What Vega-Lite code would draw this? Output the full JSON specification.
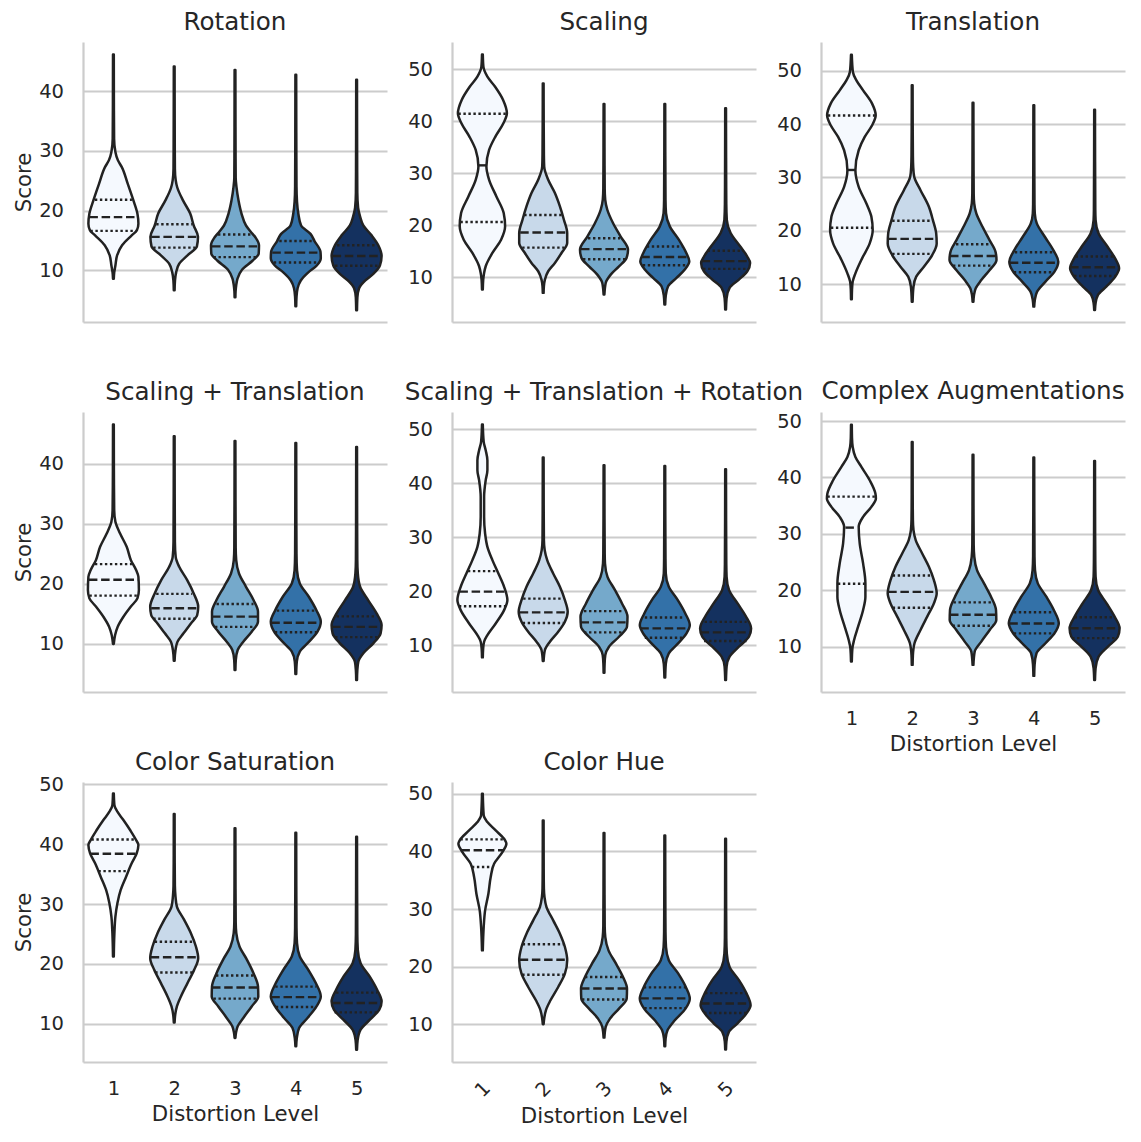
{
"$schema":"https://vega.github.io/schema/vega-lite/v6.json",
"padding":{"left":13,"top":10,"right":5,"bottom":5},
"config":{"font":"DejaVu Sans","view":{"stroke":null},
"axis":{"domainColor":"#cccccc","domainWidth":2.2,"ticks":false,"tickSize":0,"labelColor":"#262626","labelFontSize":19.5,"titleColor":"#262626","titleFontSize":21.3,"titleFontWeight":"normal","gridColor":"#cccccc","gridWidth":1.8},
"axisY":{"grid":true,"labelPadding":19.5,"titlePadding":4},
"axisX":{"grid":false,"labelPadding":17,"titlePadding":5.5},
"title":{"fontSize":24.6,"fontWeight":"normal","color":"#262626","offset":6,"frame":"group"}},
"datasets":{
"v":[
{"p":"R","l":1,"s":46.1,"w":0.4},{"p":"R","l":1,"s":38,"w":0.5},{"p":"R","l":1,"s":32,"w":0.7},{"p":"R","l":1,"s":29.8,"w":2},{"p":"R","l":1,"s":28.4,"w":4.5},{"p":"R","l":1,"s":27.3,"w":8.3},{"p":"R","l":1,"s":24.5,"w":14.3},{"p":"R","l":1,"s":21.7,"w":20},{"p":"R","l":1,"s":19.5,"w":24},{"p":"R","l":1,"s":17.8,"w":25},{"p":"R","l":1,"s":16.7,"w":23.5},{"p":"R","l":1,"s":15.85,"w":18.3},{"p":"R","l":1,"s":14.2,"w":8.7},{"p":"R","l":1,"s":12.5,"w":3.7},{"p":"R","l":1,"s":10.8,"w":2},{"p":"R","l":1,"s":9.6,"w":0.8},{"p":"R","l":1,"s":8.6,"w":0.4},
{"p":"R","l":2,"s":44.1,"w":0.4},{"p":"R","l":2,"s":35,"w":0.5},{"p":"R","l":2,"s":27,"w":0.7},{"p":"R","l":2,"s":25.1,"w":1.5},{"p":"R","l":2,"s":23.9,"w":3},{"p":"R","l":2,"s":21.7,"w":8.8},{"p":"R","l":2,"s":19.5,"w":16},{"p":"R","l":2,"s":17.5,"w":19.5},{"p":"R","l":2,"s":15.6,"w":23.8},{"p":"R","l":2,"s":14.0,"w":22.7},{"p":"R","l":2,"s":12.5,"w":13.3},{"p":"R","l":2,"s":11.1,"w":5},{"p":"R","l":2,"s":9.7,"w":2},{"p":"R","l":2,"s":8.3,"w":0.8},{"p":"R","l":2,"s":6.65,"w":0.4},
{"p":"R","l":3,"s":43.5,"w":0.4},{"p":"R","l":3,"s":34,"w":0.5},{"p":"R","l":3,"s":25.5,"w":0.7},{"p":"R","l":3,"s":23.9,"w":1.5},{"p":"R","l":3,"s":21.7,"w":3.5},{"p":"R","l":3,"s":19.5,"w":6.5},{"p":"R","l":3,"s":17.5,"w":11},{"p":"R","l":3,"s":16.5,"w":15.5},{"p":"R","l":3,"s":15.5,"w":20.5},{"p":"R","l":3,"s":14.2,"w":24},{"p":"R","l":3,"s":12.8,"w":23.7},{"p":"R","l":3,"s":11.6,"w":17.5},{"p":"R","l":3,"s":10.1,"w":7},{"p":"R","l":3,"s":8.6,"w":2.5},{"p":"R","l":3,"s":7.5,"w":1.2},{"p":"R","l":3,"s":6.5,"w":0.6},{"p":"R","l":3,"s":5.5,"w":0.4},
{"p":"R","l":4,"s":42.7,"w":0.4},{"p":"R","l":4,"s":33,"w":0.5},{"p":"R","l":4,"s":24,"w":0.7},{"p":"R","l":4,"s":21.5,"w":1.2},{"p":"R","l":4,"s":19.5,"w":2.5},{"p":"R","l":4,"s":17.5,"w":5.3},{"p":"R","l":4,"s":16.1,"w":14.7},{"p":"R","l":4,"s":14.9,"w":18.7},{"p":"R","l":4,"s":13.1,"w":24.7},{"p":"R","l":4,"s":12.0,"w":25},{"p":"R","l":4,"s":10.8,"w":21},{"p":"R","l":4,"s":9.7,"w":12.8},{"p":"R","l":4,"s":8.3,"w":5},{"p":"R","l":4,"s":7.0,"w":1.8},{"p":"R","l":4,"s":5.5,"w":0.7},{"p":"R","l":4,"s":4.0,"w":0.4},
{"p":"R","l":5,"s":41.9,"w":0.4},{"p":"R","l":5,"s":32,"w":0.5},{"p":"R","l":5,"s":23,"w":0.7},{"p":"R","l":5,"s":20.5,"w":1.5},{"p":"R","l":5,"s":19,"w":3.5},{"p":"R","l":5,"s":17.5,"w":6.7},{"p":"R","l":5,"s":15.85,"w":15},{"p":"R","l":5,"s":14.2,"w":21.7},{"p":"R","l":5,"s":12.4,"w":25},{"p":"R","l":5,"s":10.8,"w":23.3},{"p":"R","l":5,"s":9.4,"w":16.7},{"p":"R","l":5,"s":8.2,"w":8},{"p":"R","l":5,"s":7.0,"w":2.5},{"p":"R","l":5,"s":5.5,"w":0.8},{"p":"R","l":5,"s":3.3,"w":0.4},
{"p":"S","l":1,"s":52.8,"w":0.4},{"p":"S","l":1,"s":50.45,"w":1},{"p":"S","l":1,"s":48.53,"w":5},{"p":"S","l":1,"s":46.6,"w":12.7},{"p":"S","l":1,"s":44.06,"w":20.7},{"p":"S","l":1,"s":41.5,"w":24.5},{"p":"S","l":1,"s":39.58,"w":21},{"p":"S","l":1,"s":37.03,"w":13},{"p":"S","l":1,"s":34.47,"w":6.7},{"p":"S","l":1,"s":31.28,"w":4},{"p":"S","l":1,"s":28.72,"w":6.7},{"p":"S","l":1,"s":25.53,"w":14},{"p":"S","l":1,"s":22.33,"w":21.3},{"p":"S","l":1,"s":19.78,"w":22.7},{"p":"S","l":1,"s":17.22,"w":18.7},{"p":"S","l":1,"s":14.66,"w":10},{"p":"S","l":1,"s":12.11,"w":3.3},{"p":"S","l":1,"s":10.83,"w":1.7},{"p":"S","l":1,"s":9.5,"w":0.8},{"p":"S","l":1,"s":7.64,"w":0.4},
{"p":"S","l":2,"s":47.25,"w":0.4},{"p":"S","l":2,"s":40,"w":0.5},{"p":"S","l":2,"s":33.5,"w":0.7},{"p":"S","l":2,"s":31.28,"w":1},{"p":"S","l":2,"s":28.72,"w":5},{"p":"S","l":2,"s":26.17,"w":11.7},{"p":"S","l":2,"s":23.61,"w":16.7},{"p":"S","l":2,"s":21.05,"w":20.7},{"p":"S","l":2,"s":18.5,"w":24},{"p":"S","l":2,"s":16.58,"w":24},{"p":"S","l":2,"s":14.66,"w":18.3},{"p":"S","l":2,"s":12.75,"w":11.7},{"p":"S","l":2,"s":11.15,"w":5},{"p":"S","l":2,"s":9.55,"w":1.7},{"p":"S","l":2,"s":8.3,"w":0.7},{"p":"S","l":2,"s":7.0,"w":0.4},
{"p":"S","l":3,"s":43.3,"w":0.4},{"p":"S","l":3,"s":35,"w":0.5},{"p":"S","l":3,"s":27,"w":0.7},{"p":"S","l":3,"s":24.9,"w":1.2},{"p":"S","l":3,"s":22.97,"w":3.3},{"p":"S","l":3,"s":20.42,"w":9},{"p":"S","l":3,"s":17.86,"w":16.5},{"p":"S","l":3,"s":15.3,"w":24},{"p":"S","l":3,"s":13.7,"w":22.5},{"p":"S","l":3,"s":12.1,"w":15},{"p":"S","l":3,"s":10.5,"w":6.7},{"p":"S","l":3,"s":8.9,"w":1.7},{"p":"S","l":3,"s":6.68,"w":0.4},
{"p":"S","l":4,"s":43.3,"w":0.4},{"p":"S","l":4,"s":34,"w":0.5},{"p":"S","l":4,"s":25,"w":0.7},{"p":"S","l":4,"s":22.33,"w":1.2},{"p":"S","l":4,"s":19.78,"w":5},{"p":"S","l":4,"s":17.22,"w":14},{"p":"S","l":4,"s":14.66,"w":21.5},{"p":"S","l":4,"s":13.07,"w":24.5},{"p":"S","l":4,"s":11.47,"w":20},{"p":"S","l":4,"s":9.87,"w":11.7},{"p":"S","l":4,"s":8.27,"w":3.3},{"p":"S","l":4,"s":6.5,"w":1},{"p":"S","l":4,"s":4.76,"w":0.4},
{"p":"S","l":5,"s":42.46,"w":0.4},{"p":"S","l":5,"s":33,"w":0.5},{"p":"S","l":5,"s":24,"w":0.7},{"p":"S","l":5,"s":21.05,"w":1.2},{"p":"S","l":5,"s":18.5,"w":5},{"p":"S","l":5,"s":15.94,"w":14.5},{"p":"S","l":5,"s":14.03,"w":21.5},{"p":"S","l":5,"s":12.75,"w":24.5},{"p":"S","l":5,"s":11.15,"w":21.7},{"p":"S","l":5,"s":9.55,"w":13.3},{"p":"S","l":5,"s":7.96,"w":4},{"p":"S","l":5,"s":6.0,"w":1},{"p":"S","l":5,"s":3.8,"w":0.4},
{"p":"T","l":1,"s":52.96,"w":0.4},{"p":"T","l":1,"s":49.73,"w":1.5},{"p":"T","l":1,"s":48.17,"w":5},{"p":"T","l":1,"s":46.3,"w":11.7},{"p":"T","l":1,"s":43.81,"w":20.7},{"p":"T","l":1,"s":41.63,"w":24.3},{"p":"T","l":1,"s":39.76,"w":20.7},{"p":"T","l":1,"s":37.58,"w":13.3},{"p":"T","l":1,"s":35.09,"w":7.3},{"p":"T","l":1,"s":31.36,"w":4},{"p":"T","l":1,"s":28.24,"w":7.3},{"p":"T","l":1,"s":25.13,"w":15},{"p":"T","l":1,"s":22.64,"w":20},{"p":"T","l":1,"s":20.15,"w":21.3},{"p":"T","l":1,"s":17.66,"w":18.3},{"p":"T","l":1,"s":14.86,"w":10.7},{"p":"T","l":1,"s":12.05,"w":4},{"p":"T","l":1,"s":10.5,"w":1.3},{"p":"T","l":1,"s":9,"w":0.6},{"p":"T","l":1,"s":7.2,"w":0.4},
{"p":"T","l":2,"s":47.24,"w":0.4},{"p":"T","l":2,"s":40,"w":0.5},{"p":"T","l":2,"s":34,"w":0.7},{"p":"T","l":2,"s":31.98,"w":1},{"p":"T","l":2,"s":30.11,"w":2},{"p":"T","l":2,"s":27.62,"w":8.3},{"p":"T","l":2,"s":24.51,"w":16.7},{"p":"T","l":2,"s":22.02,"w":20.7},{"p":"T","l":2,"s":19.53,"w":24},{"p":"T","l":2,"s":17.66,"w":24.5},{"p":"T","l":2,"s":15.48,"w":20},{"p":"T","l":2,"s":13.3,"w":11.7},{"p":"T","l":2,"s":11.43,"w":4},{"p":"T","l":2,"s":9.56,"w":1.3},{"p":"T","l":2,"s":6.76,"w":0.4},
{"p":"T","l":3,"s":44.0,"w":0.4},{"p":"T","l":3,"s":35,"w":0.5},{"p":"T","l":3,"s":27,"w":0.7},{"p":"T","l":3,"s":25.13,"w":1.2},{"p":"T","l":3,"s":23.26,"w":3.3},{"p":"T","l":3,"s":20.77,"w":9.5},{"p":"T","l":3,"s":18.28,"w":16.5},{"p":"T","l":3,"s":16.1,"w":22.5},{"p":"T","l":3,"s":14.55,"w":23.5},{"p":"T","l":3,"s":12.68,"w":16.7},{"p":"T","l":3,"s":10.81,"w":8.3},{"p":"T","l":3,"s":9.25,"w":2.7},{"p":"T","l":3,"s":8,"w":1},{"p":"T","l":3,"s":6.76,"w":0.4},
{"p":"T","l":4,"s":43.5,"w":0.4},{"p":"T","l":4,"s":34,"w":0.5},{"p":"T","l":4,"s":25,"w":0.7},{"p":"T","l":4,"s":23.26,"w":1},{"p":"T","l":4,"s":21.4,"w":3},{"p":"T","l":4,"s":18.9,"w":11},{"p":"T","l":4,"s":16.41,"w":19.5},{"p":"T","l":4,"s":14.23,"w":24.5},{"p":"T","l":4,"s":12.37,"w":20.7},{"p":"T","l":4,"s":10.5,"w":11.7},{"p":"T","l":4,"s":8.63,"w":3.3},{"p":"T","l":4,"s":7,"w":1},{"p":"T","l":4,"s":5.83,"w":0.4},
{"p":"T","l":5,"s":42.69,"w":0.4},{"p":"T","l":5,"s":33,"w":0.5},{"p":"T","l":5,"s":24,"w":0.7},{"p":"T","l":5,"s":22.02,"w":1},{"p":"T","l":5,"s":19.53,"w":4},{"p":"T","l":5,"s":17.04,"w":13},{"p":"T","l":5,"s":14.86,"w":20.5},{"p":"T","l":5,"s":12.99,"w":24.5},{"p":"T","l":5,"s":11.43,"w":20.7},{"p":"T","l":5,"s":9.56,"w":11.7},{"p":"T","l":5,"s":8.0,"w":3.3},{"p":"T","l":5,"s":6.5,"w":1},{"p":"T","l":5,"s":5.2,"w":0.4},
{"p":"ST","l":1,"s":46.5,"w":0.4},{"p":"ST","l":1,"s":38.9,"w":0.5},{"p":"ST","l":1,"s":32.24,"w":0.8},{"p":"ST","l":1,"s":30.3,"w":2},{"p":"ST","l":1,"s":28.36,"w":6.7},{"p":"ST","l":1,"s":26.14,"w":13.3},{"p":"ST","l":1,"s":23.92,"w":17.5},{"p":"ST","l":1,"s":22.26,"w":22.7},{"p":"ST","l":1,"s":21.15,"w":25},{"p":"ST","l":1,"s":18.93,"w":25.5},{"p":"ST","l":1,"s":17.54,"w":24},{"p":"ST","l":1,"s":16.16,"w":17.3},{"p":"ST","l":1,"s":14.49,"w":10},{"p":"ST","l":1,"s":12.83,"w":4.3},{"p":"ST","l":1,"s":11.44,"w":1.7},{"p":"ST","l":1,"s":9.95,"w":0.4},
{"p":"ST","l":2,"s":44.55,"w":0.4},{"p":"ST","l":2,"s":35,"w":0.5},{"p":"ST","l":2,"s":27,"w":0.7},{"p":"ST","l":2,"s":24.48,"w":1.5},{"p":"ST","l":2,"s":22.81,"w":5},{"p":"ST","l":2,"s":20.59,"w":13},{"p":"ST","l":2,"s":18.37,"w":19.5},{"p":"ST","l":2,"s":16.16,"w":24},{"p":"ST","l":2,"s":14.77,"w":23},{"p":"ST","l":2,"s":13.38,"w":16.7},{"p":"ST","l":2,"s":11.72,"w":9.3},{"p":"ST","l":2,"s":10.33,"w":3.3},{"p":"ST","l":2,"s":8.95,"w":1.3},{"p":"ST","l":2,"s":7.17,"w":0.4},
{"p":"ST","l":3,"s":43.78,"w":0.4},{"p":"ST","l":3,"s":34,"w":0.5},{"p":"ST","l":3,"s":26,"w":0.7},{"p":"ST","l":3,"s":23.92,"w":1.2},{"p":"ST","l":3,"s":21.7,"w":4},{"p":"ST","l":3,"s":19.48,"w":11},{"p":"ST","l":3,"s":17.27,"w":18.5},{"p":"ST","l":3,"s":15.32,"w":23},{"p":"ST","l":3,"s":13.66,"w":23},{"p":"ST","l":3,"s":12.0,"w":16.7},{"p":"ST","l":3,"s":10.33,"w":8.3},{"p":"ST","l":3,"s":8.95,"w":2.7},{"p":"ST","l":3,"s":7.3,"w":0.8},{"p":"ST","l":3,"s":5.62,"w":0.4},
{"p":"ST","l":4,"s":43.44,"w":0.4},{"p":"ST","l":4,"s":34,"w":0.5},{"p":"ST","l":4,"s":25,"w":0.7},{"p":"ST","l":4,"s":22.26,"w":1.2},{"p":"ST","l":4,"s":20.04,"w":4},{"p":"ST","l":4,"s":17.82,"w":13},{"p":"ST","l":4,"s":15.6,"w":20.5},{"p":"ST","l":4,"s":13.66,"w":25},{"p":"ST","l":4,"s":12.0,"w":21.7},{"p":"ST","l":4,"s":10.33,"w":13.3},{"p":"ST","l":4,"s":8.67,"w":4},{"p":"ST","l":4,"s":7,"w":1},{"p":"ST","l":4,"s":4.95,"w":0.4},
{"p":"ST","l":5,"s":42.78,"w":0.4},{"p":"ST","l":5,"s":33,"w":0.5},{"p":"ST","l":5,"s":24,"w":0.7},{"p":"ST","l":5,"s":21.7,"w":1.2},{"p":"ST","l":5,"s":19.48,"w":3.5},{"p":"ST","l":5,"s":17.27,"w":11.5},{"p":"ST","l":5,"s":15.05,"w":20},{"p":"ST","l":5,"s":13.11,"w":25},{"p":"ST","l":5,"s":11.72,"w":24},{"p":"ST","l":5,"s":10.06,"w":16.7},{"p":"ST","l":5,"s":8.39,"w":6.7},{"p":"ST","l":5,"s":7.0,"w":1.7},{"p":"ST","l":5,"s":5.5,"w":0.7},{"p":"ST","l":5,"s":3.95,"w":0.4},
{"p":"STR","l":1,"s":50.86,"w":0.4},{"p":"STR","l":1,"s":47.65,"w":1.3},{"p":"STR","l":1,"s":46.11,"w":3.3},{"p":"STR","l":1,"s":44.26,"w":5},{"p":"STR","l":1,"s":42.41,"w":5},{"p":"STR","l":1,"s":40.56,"w":3.3},{"p":"STR","l":1,"s":37.47,"w":1.7},{"p":"STR","l":1,"s":33.77,"w":1.7},{"p":"STR","l":1,"s":30.68,"w":2.7},{"p":"STR","l":1,"s":28.21,"w":5},{"p":"STR","l":1,"s":25.74,"w":10},{"p":"STR","l":1,"s":23.27,"w":16},{"p":"STR","l":1,"s":20.8,"w":21.7},{"p":"STR","l":1,"s":18.33,"w":25},{"p":"STR","l":1,"s":16.48,"w":21.7},{"p":"STR","l":1,"s":14.01,"w":13.3},{"p":"STR","l":1,"s":11.85,"w":5},{"p":"STR","l":1,"s":10.62,"w":1.7},{"p":"STR","l":1,"s":9.2,"w":0.7},{"p":"STR","l":1,"s":7.72,"w":0.4},
{"p":"STR","l":2,"s":44.75,"w":0.4},{"p":"STR","l":2,"s":36,"w":0.5},{"p":"STR","l":2,"s":29.5,"w":0.7},{"p":"STR","l":2,"s":27.59,"w":1.5},{"p":"STR","l":2,"s":25.74,"w":4},{"p":"STR","l":2,"s":23.27,"w":10},{"p":"STR","l":2,"s":20.8,"w":16.7},{"p":"STR","l":2,"s":18.33,"w":21.7},{"p":"STR","l":2,"s":16.17,"w":24.5},{"p":"STR","l":2,"s":14.32,"w":21.7},{"p":"STR","l":2,"s":12.47,"w":15},{"p":"STR","l":2,"s":10.62,"w":6.7},{"p":"STR","l":2,"s":9.07,"w":1.7},{"p":"STR","l":2,"s":7.04,"w":0.4},
{"p":"STR","l":3,"s":43.33,"w":0.4},{"p":"STR","l":3,"s":34,"w":0.5},{"p":"STR","l":3,"s":27,"w":0.7},{"p":"STR","l":3,"s":25.12,"w":1},{"p":"STR","l":3,"s":22.65,"w":3.5},{"p":"STR","l":3,"s":20.19,"w":11},{"p":"STR","l":3,"s":17.72,"w":18},{"p":"STR","l":3,"s":15.25,"w":23.5},{"p":"STR","l":3,"s":13.4,"w":23},{"p":"STR","l":3,"s":11.54,"w":15},{"p":"STR","l":3,"s":9.69,"w":5},{"p":"STR","l":3,"s":8.15,"w":1.3},{"p":"STR","l":3,"s":6.5,"w":0.6},{"p":"STR","l":3,"s":4.88,"w":0.4},
{"p":"STR","l":4,"s":43.21,"w":0.4},{"p":"STR","l":4,"s":34,"w":0.5},{"p":"STR","l":4,"s":26,"w":0.7},{"p":"STR","l":4,"s":23.27,"w":1},{"p":"STR","l":4,"s":20.8,"w":4},{"p":"STR","l":4,"s":18.33,"w":13},{"p":"STR","l":4,"s":15.86,"w":20.5},{"p":"STR","l":4,"s":13.7,"w":25},{"p":"STR","l":4,"s":12.16,"w":21.7},{"p":"STR","l":4,"s":10.31,"w":13.3},{"p":"STR","l":4,"s":8.46,"w":4},{"p":"STR","l":4,"s":6.5,"w":1},{"p":"STR","l":4,"s":4.0,"w":0.4},
{"p":"STR","l":5,"s":42.59,"w":0.4},{"p":"STR","l":5,"s":33,"w":0.5},{"p":"STR","l":5,"s":25,"w":0.7},{"p":"STR","l":5,"s":22.65,"w":1},{"p":"STR","l":5,"s":20.19,"w":3.5},{"p":"STR","l":5,"s":17.72,"w":12},{"p":"STR","l":5,"s":15.25,"w":20.5},{"p":"STR","l":5,"s":13.09,"w":25.5},{"p":"STR","l":5,"s":11.54,"w":23.3},{"p":"STR","l":5,"s":9.69,"w":13.3},{"p":"STR","l":5,"s":7.84,"w":4},{"p":"STR","l":5,"s":6,"w":1},{"p":"STR","l":5,"s":3.52,"w":0.4},
{"p":"C","l":1,"s":49.35,"w":0.4},{"p":"C","l":1,"s":47,"w":0.6},{"p":"C","l":1,"s":45.4,"w":1.3},{"p":"C","l":1,"s":43.63,"w":4},{"p":"C","l":1,"s":41.86,"w":10},{"p":"C","l":1,"s":39.5,"w":18.3},{"p":"C","l":1,"s":37.14,"w":24},{"p":"C","l":1,"s":36.25,"w":24.5},{"p":"C","l":1,"s":34.78,"w":20},{"p":"C","l":1,"s":33.01,"w":11.7},{"p":"C","l":1,"s":31.24,"w":7.3},{"p":"C","l":1,"s":28.29,"w":8.3},{"p":"C","l":1,"s":24.75,"w":11.7},{"p":"C","l":1,"s":21.21,"w":14},{"p":"C","l":1,"s":18.85,"w":14},{"p":"C","l":1,"s":16.49,"w":11.7},{"p":"C","l":1,"s":13.54,"w":6.7},{"p":"C","l":1,"s":11.18,"w":2.7},{"p":"C","l":1,"s":9.7,"w":1},{"p":"C","l":1,"s":7.35,"w":0.4},
{"p":"C","l":2,"s":46.28,"w":0.4},{"p":"C","l":2,"s":37,"w":0.5},{"p":"C","l":2,"s":32.5,"w":0.7},{"p":"C","l":2,"s":30.65,"w":1.3},{"p":"C","l":2,"s":28.88,"w":3.5},{"p":"C","l":2,"s":26.52,"w":10},{"p":"C","l":2,"s":24.16,"w":16.7},{"p":"C","l":2,"s":21.8,"w":21.7},{"p":"C","l":2,"s":19.44,"w":24.5},{"p":"C","l":2,"s":17.67,"w":21.7},{"p":"C","l":2,"s":15.31,"w":15},{"p":"C","l":2,"s":12.95,"w":8.3},{"p":"C","l":2,"s":10.59,"w":2.3},{"p":"C","l":2,"s":8.5,"w":0.7},{"p":"C","l":2,"s":6.76,"w":0.4},
{"p":"C","l":3,"s":44.04,"w":0.4},{"p":"C","l":3,"s":35,"w":0.5},{"p":"C","l":3,"s":28,"w":0.7},{"p":"C","l":3,"s":25.93,"w":1.3},{"p":"C","l":3,"s":23.57,"w":4},{"p":"C","l":3,"s":21.21,"w":11},{"p":"C","l":3,"s":18.85,"w":18},{"p":"C","l":3,"s":16.49,"w":23},{"p":"C","l":3,"s":14.72,"w":23.3},{"p":"C","l":3,"s":12.95,"w":16.7},{"p":"C","l":3,"s":10.88,"w":8.3},{"p":"C","l":3,"s":9.12,"w":1.7},{"p":"C","l":3,"s":6.76,"w":0.4},
{"p":"C","l":4,"s":43.51,"w":0.4},{"p":"C","l":4,"s":34,"w":0.5},{"p":"C","l":4,"s":26,"w":0.7},{"p":"C","l":4,"s":23.57,"w":1.2},{"p":"C","l":4,"s":21.21,"w":4},{"p":"C","l":4,"s":18.85,"w":12.5},{"p":"C","l":4,"s":16.49,"w":20},{"p":"C","l":4,"s":14.13,"w":25},{"p":"C","l":4,"s":12.36,"w":20.7},{"p":"C","l":4,"s":10.59,"w":11.7},{"p":"C","l":4,"s":8.82,"w":2.7},{"p":"C","l":4,"s":6.8,"w":0.8},{"p":"C","l":4,"s":4.81,"w":0.4},
{"p":"C","l":5,"s":42.92,"w":0.4},{"p":"C","l":5,"s":33,"w":0.5},{"p":"C","l":5,"s":25,"w":0.7},{"p":"C","l":5,"s":22.39,"w":1},{"p":"C","l":5,"s":20.03,"w":3.5},{"p":"C","l":5,"s":17.67,"w":12},{"p":"C","l":5,"s":15.31,"w":20},{"p":"C","l":5,"s":13.24,"w":25},{"p":"C","l":5,"s":11.77,"w":23.3},{"p":"C","l":5,"s":10.0,"w":13.3},{"p":"C","l":5,"s":8.23,"w":4},{"p":"C","l":5,"s":6.2,"w":1},{"p":"C","l":5,"s":4.1,"w":0.4},
{"p":"CS","l":1,"s":48.49,"w":0.4},{"p":"CS","l":1,"s":46.54,"w":1},{"p":"CS","l":1,"s":45.43,"w":4},{"p":"CS","l":1,"s":44.04,"w":10},{"p":"CS","l":1,"s":42.37,"w":16.7},{"p":"CS","l":1,"s":40.7,"w":22.7},{"p":"CS","l":1,"s":39.87,"w":25},{"p":"CS","l":1,"s":38.48,"w":23.3},{"p":"CS","l":1,"s":36.81,"w":18.3},{"p":"CS","l":1,"s":34.58,"w":12.7},{"p":"CS","l":1,"s":32.36,"w":7.3},{"p":"CS","l":1,"s":30.13,"w":4},{"p":"CS","l":1,"s":27.91,"w":2},{"p":"CS","l":1,"s":25.13,"w":1},{"p":"CS","l":1,"s":21.23,"w":0.4},
{"p":"CS","l":2,"s":45.04,"w":0.4},{"p":"CS","l":2,"s":37,"w":0.5},{"p":"CS","l":2,"s":33,"w":0.7},{"p":"CS","l":2,"s":31.25,"w":1.3},{"p":"CS","l":2,"s":29.58,"w":2.7},{"p":"CS","l":2,"s":27.35,"w":10},{"p":"CS","l":2,"s":25.13,"w":16.7},{"p":"CS","l":2,"s":22.9,"w":21.7},{"p":"CS","l":2,"s":20.96,"w":24},{"p":"CS","l":2,"s":19.01,"w":20},{"p":"CS","l":2,"s":16.79,"w":13.3},{"p":"CS","l":2,"s":14.56,"w":6.7},{"p":"CS","l":2,"s":12.89,"w":2.7},{"p":"CS","l":2,"s":11.5,"w":1},{"p":"CS","l":2,"s":10.22,"w":0.4},
{"p":"CS","l":3,"s":42.65,"w":0.4},{"p":"CS","l":3,"s":34,"w":0.5},{"p":"CS","l":3,"s":27,"w":0.7},{"p":"CS","l":3,"s":25.13,"w":1.3},{"p":"CS","l":3,"s":22.9,"w":4.5},{"p":"CS","l":3,"s":20.68,"w":12},{"p":"CS","l":3,"s":18.45,"w":18.5},{"p":"CS","l":3,"s":16.23,"w":23},{"p":"CS","l":3,"s":14.56,"w":23.3},{"p":"CS","l":3,"s":12.89,"w":16.7},{"p":"CS","l":3,"s":10.95,"w":8.3},{"p":"CS","l":3,"s":9.56,"w":2.7},{"p":"CS","l":3,"s":8.5,"w":1},{"p":"CS","l":3,"s":7.61,"w":0.4},
{"p":"CS","l":4,"s":41.92,"w":0.4},{"p":"CS","l":4,"s":33,"w":0.5},{"p":"CS","l":4,"s":26,"w":0.7},{"p":"CS","l":4,"s":23.46,"w":1.2},{"p":"CS","l":4,"s":21.23,"w":4},{"p":"CS","l":4,"s":19.01,"w":12.5},{"p":"CS","l":4,"s":16.79,"w":20},{"p":"CS","l":4,"s":14.56,"w":25},{"p":"CS","l":4,"s":12.89,"w":20.7},{"p":"CS","l":4,"s":10.95,"w":11.7},{"p":"CS","l":4,"s":9.28,"w":3.3},{"p":"CS","l":4,"s":7.6,"w":1},{"p":"CS","l":4,"s":6.22,"w":0.4},
{"p":"CS","l":5,"s":41.26,"w":0.4},{"p":"CS","l":5,"s":33,"w":0.5},{"p":"CS","l":5,"s":25,"w":0.7},{"p":"CS","l":5,"s":22.35,"w":1.2},{"p":"CS","l":5,"s":20.12,"w":4},{"p":"CS","l":5,"s":17.9,"w":13},{"p":"CS","l":5,"s":15.67,"w":20.5},{"p":"CS","l":5,"s":13.73,"w":25},{"p":"CS","l":5,"s":12.34,"w":22.7},{"p":"CS","l":5,"s":10.67,"w":13.3},{"p":"CS","l":5,"s":9.0,"w":4},{"p":"CS","l":5,"s":7.2,"w":1},{"p":"CS","l":5,"s":5.66,"w":0.4},
{"p":"CH","l":1,"s":50.0,"w":0.4},{"p":"CH","l":1,"s":46.24,"w":1.3},{"p":"CH","l":1,"s":45.09,"w":5},{"p":"CH","l":1,"s":43.64,"w":13.3},{"p":"CH","l":1,"s":41.91,"w":22.7},{"p":"CH","l":1,"s":41.33,"w":24},{"p":"CH","l":1,"s":39.88,"w":20},{"p":"CH","l":1,"s":37.86,"w":11.7},{"p":"CH","l":1,"s":35.55,"w":8.3},{"p":"CH","l":1,"s":32.66,"w":6},{"p":"CH","l":1,"s":29.77,"w":2.7},{"p":"CH","l":1,"s":26.88,"w":1.3},{"p":"CH","l":1,"s":22.83,"w":0.4},
{"p":"CH","l":2,"s":45.38,"w":0.4},{"p":"CH","l":2,"s":37,"w":0.5},{"p":"CH","l":2,"s":33.5,"w":0.7},{"p":"CH","l":2,"s":32.08,"w":1.3},{"p":"CH","l":2,"s":30.35,"w":3.3},{"p":"CH","l":2,"s":28.03,"w":10},{"p":"CH","l":2,"s":25.72,"w":16.7},{"p":"CH","l":2,"s":23.41,"w":21.7},{"p":"CH","l":2,"s":21.1,"w":24},{"p":"CH","l":2,"s":18.79,"w":21.7},{"p":"CH","l":2,"s":16.47,"w":15},{"p":"CH","l":2,"s":14.16,"w":7.3},{"p":"CH","l":2,"s":12.43,"w":2.7},{"p":"CH","l":2,"s":11,"w":1},{"p":"CH","l":2,"s":10.0,"w":0.4},
{"p":"CH","l":3,"s":43.18,"w":0.4},{"p":"CH","l":3,"s":34,"w":0.5},{"p":"CH","l":3,"s":27,"w":0.7},{"p":"CH","l":3,"s":25.14,"w":1.3},{"p":"CH","l":3,"s":22.83,"w":4.5},{"p":"CH","l":3,"s":20.52,"w":12},{"p":"CH","l":3,"s":18.21,"w":19},{"p":"CH","l":3,"s":16.18,"w":23},{"p":"CH","l":3,"s":14.45,"w":22.7},{"p":"CH","l":3,"s":12.72,"w":15},{"p":"CH","l":3,"s":10.98,"w":6},{"p":"CH","l":3,"s":9.54,"w":1.7},{"p":"CH","l":3,"s":7.69,"w":0.4},
{"p":"CH","l":4,"s":42.77,"w":0.4},{"p":"CH","l":4,"s":34,"w":0.5},{"p":"CH","l":4,"s":26,"w":0.7},{"p":"CH","l":4,"s":23.41,"w":1.2},{"p":"CH","l":4,"s":21.1,"w":4},{"p":"CH","l":4,"s":18.79,"w":13.5},{"p":"CH","l":4,"s":16.47,"w":21},{"p":"CH","l":4,"s":14.45,"w":25},{"p":"CH","l":4,"s":12.72,"w":20.7},{"p":"CH","l":4,"s":10.69,"w":10},{"p":"CH","l":4,"s":8.96,"w":2.7},{"p":"CH","l":4,"s":7.5,"w":0.8},{"p":"CH","l":4,"s":6.18,"w":0.4},
{"p":"CH","l":5,"s":42.2,"w":0.4},{"p":"CH","l":5,"s":33,"w":0.5},{"p":"CH","l":5,"s":25,"w":0.7},{"p":"CH","l":5,"s":22.25,"w":1.2},{"p":"CH","l":5,"s":19.94,"w":4},{"p":"CH","l":5,"s":17.63,"w":13.5},{"p":"CH","l":5,"s":15.32,"w":21},{"p":"CH","l":5,"s":13.29,"w":25},{"p":"CH","l":5,"s":11.85,"w":20.7},{"p":"CH","l":5,"s":10.12,"w":11.7},{"p":"CH","l":5,"s":8.67,"w":3.3},{"p":"CH","l":5,"s":7,"w":0.8},{"p":"CH","l":5,"s":5.61,"w":0.4}
],
"q":[
{"p":"R","l":1,"k":"q","s":21.8,"w":18.5},{"p":"R","l":1,"k":"m","s":18.9,"w":24},{"p":"R","l":1,"k":"q","s":16.6,"w":23},
{"p":"R","l":2,"k":"q","s":17.7,"w":18},{"p":"R","l":2,"k":"m","s":15.6,"w":23},{"p":"R","l":2,"k":"q","s":13.8,"w":21},
{"p":"R","l":3,"k":"q","s":16.0,"w":17},{"p":"R","l":3,"k":"m","s":14.0,"w":23},{"p":"R","l":3,"k":"q","s":12.2,"w":21.5},
{"p":"R","l":4,"k":"q","s":14.9,"w":16.5},{"p":"R","l":4,"k":"m","s":12.96,"w":23.5},{"p":"R","l":4,"k":"q","s":11.3,"w":22},
{"p":"R","l":5,"k":"q","s":14.2,"w":19.5},{"p":"R","l":5,"k":"m","s":12.4,"w":24},{"p":"R","l":5,"k":"q","s":10.75,"w":21.5},
{"p":"S","l":1,"k":"q","s":41.4,"w":24},{"p":"S","l":1,"k":"m","s":31.5,"w":4},{"p":"S","l":1,"k":"q","s":20.6,"w":22},
{"p":"S","l":2,"k":"q","s":21.95,"w":19},{"p":"S","l":2,"k":"m","s":18.6,"w":23},{"p":"S","l":2,"k":"q","s":15.7,"w":21},
{"p":"S","l":3,"k":"q","s":17.5,"w":16},{"p":"S","l":3,"k":"m","s":15.4,"w":23},{"p":"S","l":3,"k":"q","s":13.45,"w":21},
{"p":"S","l":4,"k":"q","s":15.9,"w":18},{"p":"S","l":4,"k":"m","s":13.9,"w":23.5},{"p":"S","l":4,"k":"q","s":12.3,"w":22},
{"p":"S","l":5,"k":"q","s":15.1,"w":18},{"p":"S","l":5,"k":"m","s":13.1,"w":24},{"p":"S","l":5,"k":"q","s":11.6,"w":22.5},
{"p":"T","l":1,"k":"q","s":41.6,"w":23.5},{"p":"T","l":1,"k":"m","s":31.4,"w":4},{"p":"T","l":1,"k":"q","s":20.6,"w":20.5},
{"p":"T","l":2,"k":"q","s":21.9,"w":20},{"p":"T","l":2,"k":"m","s":18.5,"w":24},{"p":"T","l":2,"k":"q","s":15.7,"w":20},
{"p":"T","l":3,"k":"q","s":17.5,"w":17},{"p":"T","l":3,"k":"m","s":15.3,"w":23},{"p":"T","l":3,"k":"q","s":13.5,"w":20},
{"p":"T","l":4,"k":"q","s":16.0,"w":19},{"p":"T","l":4,"k":"m","s":14.05,"w":24},{"p":"T","l":4,"k":"q","s":12.25,"w":20},
{"p":"T","l":5,"k":"q","s":15.2,"w":19},{"p":"T","l":5,"k":"m","s":13.2,"w":24.5},{"p":"T","l":5,"k":"q","s":11.55,"w":20.5},
{"p":"ST","l":1,"k":"q","s":23.25,"w":18.5},{"p":"ST","l":1,"k":"m","s":20.65,"w":24.5},{"p":"ST","l":1,"k":"q","s":18.0,"w":24},
{"p":"ST","l":2,"k":"q","s":18.3,"w":18},{"p":"ST","l":2,"k":"m","s":15.9,"w":23},{"p":"ST","l":2,"k":"q","s":14.15,"w":21},
{"p":"ST","l":3,"k":"q","s":16.6,"w":18.5},{"p":"ST","l":3,"k":"m","s":14.5,"w":23},{"p":"ST","l":3,"k":"q","s":12.8,"w":20},
{"p":"ST","l":4,"k":"q","s":15.5,"w":19},{"p":"ST","l":4,"k":"m","s":13.5,"w":24.5},{"p":"ST","l":4,"k":"q","s":11.9,"w":21},
{"p":"ST","l":5,"k":"q","s":14.55,"w":20},{"p":"ST","l":5,"k":"m","s":12.8,"w":24.5},{"p":"ST","l":5,"k":"q","s":11.1,"w":21.5},
{"p":"STR","l":1,"k":"q","s":23.7,"w":14.5},{"p":"STR","l":1,"k":"m","s":19.9,"w":23},{"p":"STR","l":1,"k":"q","s":17.2,"w":23.5},
{"p":"STR","l":2,"k":"q","s":18.6,"w":20},{"p":"STR","l":2,"k":"m","s":16.05,"w":23.5},{"p":"STR","l":2,"k":"q","s":14.1,"w":20.5},
{"p":"STR","l":3,"k":"q","s":16.3,"w":20},{"p":"STR","l":3,"k":"m","s":14.2,"w":23.5},{"p":"STR","l":3,"k":"q","s":12.35,"w":20},
{"p":"STR","l":4,"k":"q","s":15.1,"w":20},{"p":"STR","l":4,"k":"m","s":13.1,"w":24.5},{"p":"STR","l":4,"k":"q","s":11.35,"w":20},
{"p":"STR","l":5,"k":"q","s":14.3,"w":21},{"p":"STR","l":5,"k":"m","s":12.35,"w":25},{"p":"STR","l":5,"k":"q","s":10.75,"w":21.5},
{"p":"C","l":1,"k":"q","s":36.6,"w":24},{"p":"C","l":1,"k":"m","s":31.1,"w":6},{"p":"C","l":1,"k":"q","s":21.15,"w":13.5},
{"p":"C","l":2,"k":"q","s":22.6,"w":19.5},{"p":"C","l":2,"k":"m","s":19.7,"w":24},{"p":"C","l":2,"k":"q","s":16.9,"w":19.5},
{"p":"C","l":3,"k":"q","s":17.85,"w":19.5},{"p":"C","l":3,"k":"m","s":15.65,"w":23},{"p":"C","l":3,"k":"q","s":13.7,"w":20.5},
{"p":"C","l":4,"k":"q","s":16.1,"w":20},{"p":"C","l":4,"k":"m","s":14.1,"w":24.5},{"p":"C","l":4,"k":"q","s":12.35,"w":20},
{"p":"C","l":5,"k":"q","s":15.2,"w":20},{"p":"C","l":5,"k":"m","s":13.25,"w":24.5},{"p":"C","l":5,"k":"q","s":11.5,"w":22.5},
{"p":"CS","l":1,"k":"q","s":40.8,"w":22},{"p":"CS","l":1,"k":"m","s":38.4,"w":23},{"p":"CS","l":1,"k":"q","s":35.5,"w":15},
{"p":"CS","l":2,"k":"q","s":23.7,"w":19.5},{"p":"CS","l":2,"k":"m","s":21.1,"w":23.5},{"p":"CS","l":2,"k":"q","s":18.55,"w":19},
{"p":"CS","l":3,"k":"q","s":18.05,"w":19},{"p":"CS","l":3,"k":"m","s":16.05,"w":23},{"p":"CS","l":3,"k":"q","s":14.2,"w":21.5},
{"p":"CS","l":4,"k":"q","s":16.2,"w":20.5},{"p":"CS","l":4,"k":"m","s":14.45,"w":24.5},{"p":"CS","l":4,"k":"q","s":12.8,"w":20},
{"p":"CS","l":5,"k":"q","s":15.2,"w":20.5},{"p":"CS","l":5,"k":"m","s":13.45,"w":24.5},{"p":"CS","l":5,"k":"q","s":11.9,"w":22},
{"p":"CH","l":1,"k":"q","s":42.1,"w":22},{"p":"CH","l":1,"k":"m","s":40.2,"w":21},{"p":"CH","l":1,"k":"q","s":37.3,"w":10.5},
{"p":"CH","l":2,"k":"q","s":23.9,"w":20.5},{"p":"CH","l":2,"k":"m","s":21.2,"w":23.5},{"p":"CH","l":2,"k":"q","s":18.6,"w":21},
{"p":"CH","l":3,"k":"q","s":18.2,"w":19},{"p":"CH","l":3,"k":"m","s":16.2,"w":23},{"p":"CH","l":3,"k":"q","s":14.3,"w":22},
{"p":"CH","l":4,"k":"q","s":16.4,"w":21},{"p":"CH","l":4,"k":"m","s":14.5,"w":24.5},{"p":"CH","l":4,"k":"q","s":12.8,"w":20.5},
{"p":"CH","l":5,"k":"q","s":15.4,"w":20.5},{"p":"CH","l":5,"k":"m","s":13.6,"w":24.5},{"p":"CH","l":5,"k":"q","s":11.95,"w":21.5}
]},
"columns":3,
"spacing":{"row":90,"column":65},
"bounds":"flush",
"concat":[
{"title":"Rotation","width":304,"height":280,"layer":[
{"data":{"name":"v"},"transform":[{"filter":"datum.p=='R'"},{"calculate":"datum.l-datum.w/60.8","as":"lo"},{"calculate":"datum.l+datum.w/60.8","as":"hi"}],"mark":{"type":"area","orient":"horizontal","interpolate":"monotone","stroke":"#222222","strokeWidth":2.5,"strokeJoin":"round"},"encoding":{"y":{"field":"s","type":"quantitative","scale":{"domain":[1.35,48.2],"nice":false,"zero":false},"axis":{"values":[10,20,30,40],"title":"Score"}},"x":{"field":"lo","type":"quantitative","scale":{"domain":[0.5,5.5],"nice":false,"zero":false},"axis":{"values":[1,2,3,4,5],"labels":false,"title":null}},"x2":{"field":"hi"},"color":{"field":"l","type":"ordinal","scale":{"domain":[1,2,3,4,5],"range":["#f5f9fe","#c8d9ea","#75a9cb","#3371a8","#14315f"]},"legend":null}}},
{"data":{"name":"q"},"transform":[{"filter":"datum.p=='R' && datum.k=='m'"},{"calculate":"datum.l-datum.w/60.8","as":"lo"},{"calculate":"datum.l+datum.w/60.8","as":"hi"}],"mark":{"type":"rule","stroke":"#222222","strokeWidth":2.4,"strokeDash":[8.5,3.7]},"encoding":{"y":{"field":"s","type":"quantitative"},"x":{"field":"lo","type":"quantitative"},"x2":{"field":"hi"}}},
{"data":{"name":"q"},"transform":[{"filter":"datum.p=='R' && datum.k=='q'"},{"calculate":"datum.l-datum.w/60.8","as":"lo"},{"calculate":"datum.l+datum.w/60.8","as":"hi"}],"mark":{"type":"rule","stroke":"#222222","strokeWidth":2.4,"strokeDash":[2.4,2.6]},"encoding":{"y":{"field":"s","type":"quantitative"},"x":{"field":"lo","type":"quantitative"},"x2":{"field":"hi"}}}
]},
{"title":"Scaling","width":304,"height":280,"layer":[
{"data":{"name":"v"},"transform":[{"filter":"datum.p=='S'"},{"calculate":"datum.l-datum.w/60.8","as":"lo"},{"calculate":"datum.l+datum.w/60.8","as":"hi"}],"mark":{"type":"area","orient":"horizontal","interpolate":"monotone","stroke":"#222222","strokeWidth":2.5,"strokeJoin":"round"},"encoding":{"y":{"field":"s","type":"quantitative","scale":{"domain":[1.4,55.2],"nice":false,"zero":false},"axis":{"values":[10,20,30,40,50],"title":null}},"x":{"field":"lo","type":"quantitative","scale":{"domain":[0.5,5.5],"nice":false,"zero":false},"axis":{"values":[1,2,3,4,5],"labels":false,"title":null}},"x2":{"field":"hi"},"color":{"field":"l","type":"ordinal","scale":{"domain":[1,2,3,4,5],"range":["#f5f9fe","#c8d9ea","#75a9cb","#3371a8","#14315f"]},"legend":null}}},
{"data":{"name":"q"},"transform":[{"filter":"datum.p=='S' && datum.k=='m'"},{"calculate":"datum.l-datum.w/60.8","as":"lo"},{"calculate":"datum.l+datum.w/60.8","as":"hi"}],"mark":{"type":"rule","stroke":"#222222","strokeWidth":2.4,"strokeDash":[8.5,3.7]},"encoding":{"y":{"field":"s","type":"quantitative"},"x":{"field":"lo","type":"quantitative"},"x2":{"field":"hi"}}},
{"data":{"name":"q"},"transform":[{"filter":"datum.p=='S' && datum.k=='q'"},{"calculate":"datum.l-datum.w/60.8","as":"lo"},{"calculate":"datum.l+datum.w/60.8","as":"hi"}],"mark":{"type":"rule","stroke":"#222222","strokeWidth":2.4,"strokeDash":[2.4,2.6]},"encoding":{"y":{"field":"s","type":"quantitative"},"x":{"field":"lo","type":"quantitative"},"x2":{"field":"hi"}}}
]},
{"title":"Translation","width":304,"height":280,"layer":[
{"data":{"name":"v"},"transform":[{"filter":"datum.p=='T'"},{"calculate":"datum.l-datum.w/60.8","as":"lo"},{"calculate":"datum.l+datum.w/60.8","as":"hi"}],"mark":{"type":"area","orient":"horizontal","interpolate":"monotone","stroke":"#222222","strokeWidth":2.5,"strokeJoin":"round"},"encoding":{"y":{"field":"s","type":"quantitative","scale":{"domain":[2.95,55.35],"nice":false,"zero":false},"axis":{"values":[10,20,30,40,50],"title":null}},"x":{"field":"lo","type":"quantitative","scale":{"domain":[0.5,5.5],"nice":false,"zero":false},"axis":{"values":[1,2,3,4,5],"labels":false,"title":null}},"x2":{"field":"hi"},"color":{"field":"l","type":"ordinal","scale":{"domain":[1,2,3,4,5],"range":["#f5f9fe","#c8d9ea","#75a9cb","#3371a8","#14315f"]},"legend":null}}},
{"data":{"name":"q"},"transform":[{"filter":"datum.p=='T' && datum.k=='m'"},{"calculate":"datum.l-datum.w/60.8","as":"lo"},{"calculate":"datum.l+datum.w/60.8","as":"hi"}],"mark":{"type":"rule","stroke":"#222222","strokeWidth":2.4,"strokeDash":[8.5,3.7]},"encoding":{"y":{"field":"s","type":"quantitative"},"x":{"field":"lo","type":"quantitative"},"x2":{"field":"hi"}}},
{"data":{"name":"q"},"transform":[{"filter":"datum.p=='T' && datum.k=='q'"},{"calculate":"datum.l-datum.w/60.8","as":"lo"},{"calculate":"datum.l+datum.w/60.8","as":"hi"}],"mark":{"type":"rule","stroke":"#222222","strokeWidth":2.4,"strokeDash":[2.4,2.6]},"encoding":{"y":{"field":"s","type":"quantitative"},"x":{"field":"lo","type":"quantitative"},"x2":{"field":"hi"}}}
]},
{"title":"Scaling + Translation","width":304,"height":280,"layer":[
{"data":{"name":"v"},"transform":[{"filter":"datum.p=='ST'"},{"calculate":"datum.l-datum.w/60.8","as":"lo"},{"calculate":"datum.l+datum.w/60.8","as":"hi"}],"mark":{"type":"area","orient":"horizontal","interpolate":"monotone","stroke":"#222222","strokeWidth":2.5,"strokeJoin":"round"},"encoding":{"y":{"field":"s","type":"quantitative","scale":{"domain":[1.95,48.6],"nice":false,"zero":false},"axis":{"values":[10,20,30,40],"title":"Score"}},"x":{"field":"lo","type":"quantitative","scale":{"domain":[0.5,5.5],"nice":false,"zero":false},"axis":{"values":[1,2,3,4,5],"labels":false,"title":null}},"x2":{"field":"hi"},"color":{"field":"l","type":"ordinal","scale":{"domain":[1,2,3,4,5],"range":["#f5f9fe","#c8d9ea","#75a9cb","#3371a8","#14315f"]},"legend":null}}},
{"data":{"name":"q"},"transform":[{"filter":"datum.p=='ST' && datum.k=='m'"},{"calculate":"datum.l-datum.w/60.8","as":"lo"},{"calculate":"datum.l+datum.w/60.8","as":"hi"}],"mark":{"type":"rule","stroke":"#222222","strokeWidth":2.4,"strokeDash":[8.5,3.7]},"encoding":{"y":{"field":"s","type":"quantitative"},"x":{"field":"lo","type":"quantitative"},"x2":{"field":"hi"}}},
{"data":{"name":"q"},"transform":[{"filter":"datum.p=='ST' && datum.k=='q'"},{"calculate":"datum.l-datum.w/60.8","as":"lo"},{"calculate":"datum.l+datum.w/60.8","as":"hi"}],"mark":{"type":"rule","stroke":"#222222","strokeWidth":2.4,"strokeDash":[2.4,2.6]},"encoding":{"y":{"field":"s","type":"quantitative"},"x":{"field":"lo","type":"quantitative"},"x2":{"field":"hi"}}}
]},
{"title":"Scaling + Translation + Rotation","width":304,"height":280,"layer":[
{"data":{"name":"v"},"transform":[{"filter":"datum.p=='STR'"},{"calculate":"datum.l-datum.w/60.8","as":"lo"},{"calculate":"datum.l+datum.w/60.8","as":"hi"}],"mark":{"type":"area","orient":"horizontal","interpolate":"monotone","stroke":"#222222","strokeWidth":2.5,"strokeJoin":"round"},"encoding":{"y":{"field":"s","type":"quantitative","scale":{"domain":[1.3,53.2],"nice":false,"zero":false},"axis":{"values":[10,20,30,40,50],"title":null}},"x":{"field":"lo","type":"quantitative","scale":{"domain":[0.5,5.5],"nice":false,"zero":false},"axis":{"values":[1,2,3,4,5],"labels":false,"title":null}},"x2":{"field":"hi"},"color":{"field":"l","type":"ordinal","scale":{"domain":[1,2,3,4,5],"range":["#f5f9fe","#c8d9ea","#75a9cb","#3371a8","#14315f"]},"legend":null}}},
{"data":{"name":"q"},"transform":[{"filter":"datum.p=='STR' && datum.k=='m'"},{"calculate":"datum.l-datum.w/60.8","as":"lo"},{"calculate":"datum.l+datum.w/60.8","as":"hi"}],"mark":{"type":"rule","stroke":"#222222","strokeWidth":2.4,"strokeDash":[8.5,3.7]},"encoding":{"y":{"field":"s","type":"quantitative"},"x":{"field":"lo","type":"quantitative"},"x2":{"field":"hi"}}},
{"data":{"name":"q"},"transform":[{"filter":"datum.p=='STR' && datum.k=='q'"},{"calculate":"datum.l-datum.w/60.8","as":"lo"},{"calculate":"datum.l+datum.w/60.8","as":"hi"}],"mark":{"type":"rule","stroke":"#222222","strokeWidth":2.4,"strokeDash":[2.4,2.6]},"encoding":{"y":{"field":"s","type":"quantitative"},"x":{"field":"lo","type":"quantitative"},"x2":{"field":"hi"}}}
]},
{"title":"Complex Augmentations","width":304,"height":280,"layer":[
{"data":{"name":"v"},"transform":[{"filter":"datum.p=='C'"},{"calculate":"datum.l-datum.w/60.8","as":"lo"},{"calculate":"datum.l+datum.w/60.8","as":"hi"}],"mark":{"type":"area","orient":"horizontal","interpolate":"monotone","stroke":"#222222","strokeWidth":2.5,"strokeJoin":"round"},"encoding":{"y":{"field":"s","type":"quantitative","scale":{"domain":[1.95,51.6],"nice":false,"zero":false},"axis":{"values":[10,20,30,40,50],"title":null}},"x":{"field":"lo","type":"quantitative","scale":{"domain":[0.5,5.5],"nice":false,"zero":false},"axis":{"values":[1,2,3,4,5],"format":"d","labelAngle":0,"title":"Distortion Level"}},"x2":{"field":"hi"},"color":{"field":"l","type":"ordinal","scale":{"domain":[1,2,3,4,5],"range":["#f5f9fe","#c8d9ea","#75a9cb","#3371a8","#14315f"]},"legend":null}}},
{"data":{"name":"q"},"transform":[{"filter":"datum.p=='C' && datum.k=='m'"},{"calculate":"datum.l-datum.w/60.8","as":"lo"},{"calculate":"datum.l+datum.w/60.8","as":"hi"}],"mark":{"type":"rule","stroke":"#222222","strokeWidth":2.4,"strokeDash":[8.5,3.7]},"encoding":{"y":{"field":"s","type":"quantitative"},"x":{"field":"lo","type":"quantitative"},"x2":{"field":"hi"}}},
{"data":{"name":"q"},"transform":[{"filter":"datum.p=='C' && datum.k=='q'"},{"calculate":"datum.l-datum.w/60.8","as":"lo"},{"calculate":"datum.l+datum.w/60.8","as":"hi"}],"mark":{"type":"rule","stroke":"#222222","strokeWidth":2.4,"strokeDash":[2.4,2.6]},"encoding":{"y":{"field":"s","type":"quantitative"},"x":{"field":"lo","type":"quantitative"},"x2":{"field":"hi"}}}
]},
{"title":{"text":"Color Saturation","offset":-1.3},"width":304,"height":280,"layer":[
{"data":{"name":"v"},"transform":[{"filter":"datum.p=='CS'"},{"calculate":"datum.l-datum.w/60.8","as":"lo"},{"calculate":"datum.l+datum.w/60.8","as":"hi"}],"mark":{"type":"area","orient":"horizontal","interpolate":"monotone","stroke":"#222222","strokeWidth":2.5,"strokeJoin":"round"},"encoding":{"y":{"field":"s","type":"quantitative","scale":{"domain":[3.6,50.4],"nice":false,"zero":false},"axis":{"values":[10,20,30,40,50],"title":"Score"}},"x":{"field":"lo","type":"quantitative","scale":{"domain":[0.5,5.5],"nice":false,"zero":false},"axis":{"values":[1,2,3,4,5],"format":"d","labelAngle":0,"title":"Distortion Level"}},"x2":{"field":"hi"},"color":{"field":"l","type":"ordinal","scale":{"domain":[1,2,3,4,5],"range":["#f5f9fe","#c8d9ea","#75a9cb","#3371a8","#14315f"]},"legend":null}}},
{"data":{"name":"q"},"transform":[{"filter":"datum.p=='CS' && datum.k=='m'"},{"calculate":"datum.l-datum.w/60.8","as":"lo"},{"calculate":"datum.l+datum.w/60.8","as":"hi"}],"mark":{"type":"rule","stroke":"#222222","strokeWidth":2.4,"strokeDash":[8.5,3.7]},"encoding":{"y":{"field":"s","type":"quantitative"},"x":{"field":"lo","type":"quantitative"},"x2":{"field":"hi"}}},
{"data":{"name":"q"},"transform":[{"filter":"datum.p=='CS' && datum.k=='q'"},{"calculate":"datum.l-datum.w/60.8","as":"lo"},{"calculate":"datum.l+datum.w/60.8","as":"hi"}],"mark":{"type":"rule","stroke":"#222222","strokeWidth":2.4,"strokeDash":[2.4,2.6]},"encoding":{"y":{"field":"s","type":"quantitative"},"x":{"field":"lo","type":"quantitative"},"x2":{"field":"hi"}}}
]},
{"title":"Color Hue","width":304,"height":280,"layer":[
{"data":{"name":"v"},"transform":[{"filter":"datum.p=='CH'"},{"calculate":"datum.l-datum.w/60.8","as":"lo"},{"calculate":"datum.l+datum.w/60.8","as":"hi"}],"mark":{"type":"area","orient":"horizontal","interpolate":"monotone","stroke":"#222222","strokeWidth":2.5,"strokeJoin":"round"},"encoding":{"y":{"field":"s","type":"quantitative","scale":{"domain":[3.45,52.05],"nice":false,"zero":false},"axis":{"values":[10,20,30,40,50],"title":null}},"x":{"field":"lo","type":"quantitative","scale":{"domain":[0.5,5.5],"nice":false,"zero":false},"axis":{"values":[1,2,3,4,5],"format":"d","labelAngle":-45,"labelAlign":"center","labelBaseline":"middle","labelPadding":27,"title":"Distortion Level"}},"x2":{"field":"hi"},"color":{"field":"l","type":"ordinal","scale":{"domain":[1,2,3,4,5],"range":["#f5f9fe","#c8d9ea","#75a9cb","#3371a8","#14315f"]},"legend":null}}},
{"data":{"name":"q"},"transform":[{"filter":"datum.p=='CH' && datum.k=='m'"},{"calculate":"datum.l-datum.w/60.8","as":"lo"},{"calculate":"datum.l+datum.w/60.8","as":"hi"}],"mark":{"type":"rule","stroke":"#222222","strokeWidth":2.4,"strokeDash":[8.5,3.7]},"encoding":{"y":{"field":"s","type":"quantitative"},"x":{"field":"lo","type":"quantitative"},"x2":{"field":"hi"}}},
{"data":{"name":"q"},"transform":[{"filter":"datum.p=='CH' && datum.k=='q'"},{"calculate":"datum.l-datum.w/60.8","as":"lo"},{"calculate":"datum.l+datum.w/60.8","as":"hi"}],"mark":{"type":"rule","stroke":"#222222","strokeWidth":2.4,"strokeDash":[2.4,2.6]},"encoding":{"y":{"field":"s","type":"quantitative"},"x":{"field":"lo","type":"quantitative"},"x2":{"field":"hi"}}}
]}
]
}
